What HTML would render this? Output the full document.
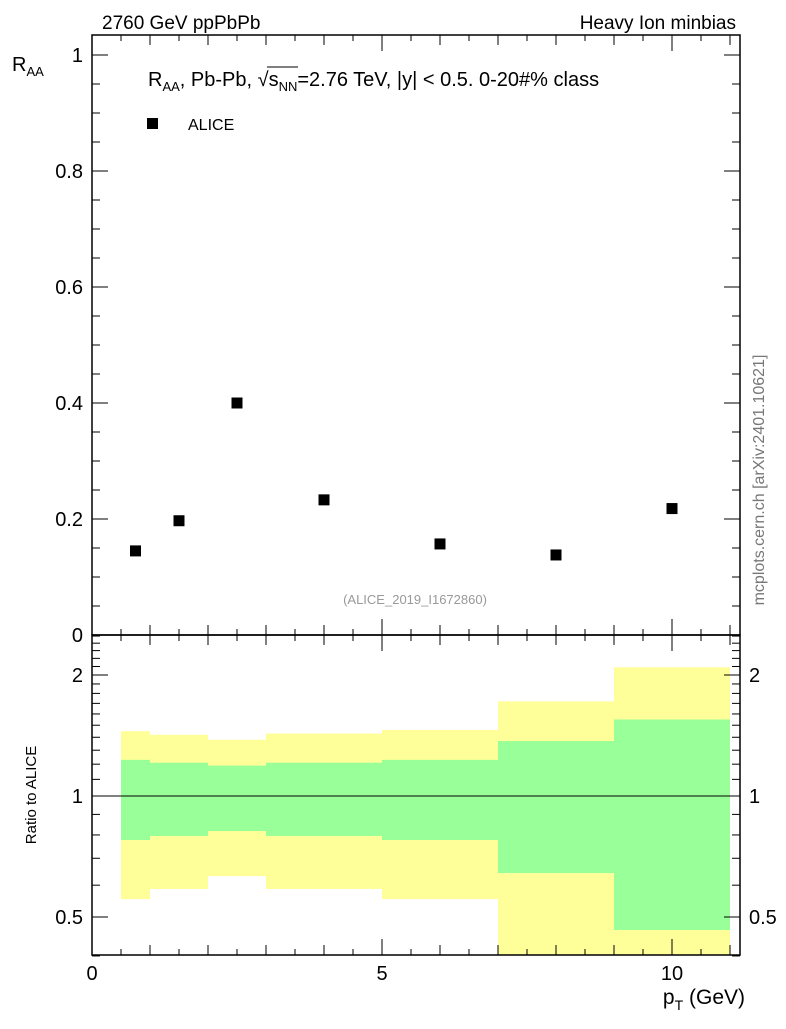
<!DOCTYPE html>
<html><head><meta charset="utf-8"><style>
body{margin:0;background:#fff;}
svg text{font-family:"Liberation Sans",sans-serif;}
</style></head><body>
<svg id="chart" width="786" height="1024" xmlns="http://www.w3.org/2000/svg">
<g id="bands"></g>
<g id="marks"></g>
<g id="axes"></g>
<text x="102" y="29" font-size="19">2760 GeV ppPbPb</text>
<text x="736" y="29" font-size="19" text-anchor="end">Heavy Ion minbias</text>
<text x="12" y="71" font-size="20">R<tspan font-size="13" dy="5">AA</tspan></text>
<text x="148" y="86" font-size="20">R<tspan font-size="13" dy="5">AA</tspan><tspan dy="-5">, Pb-Pb, √s</tspan><tspan font-size="13" dy="5">NN</tspan><tspan dy="-5">=2.76 TeV, |y| &lt; 0.5. 0-20#% class</tspan></text>
<line x1="267" y1="67" x2="298" y2="67" stroke="#000" stroke-width="1"/>
<rect x="147" y="118" width="11" height="11" fill="#000"/>
<text x="188" y="130" font-size="16">ALICE</text>
<text x="415" y="604" font-size="13" fill="#999" text-anchor="middle">(ALICE_2019_I1672860)</text>
<text transform="translate(764,480) rotate(-90)" font-size="16" fill="#777" text-anchor="middle">mcplots.cern.ch [arXiv:2401.10621]</text>
<text transform="translate(36,795) rotate(-90)" font-size="15" text-anchor="middle">Ratio to ALICE</text>
<text x="745" y="1004" font-size="21" text-anchor="end">p<tspan font-size="14" dy="6">T</tspan><tspan dy="-6"> (GeV)</tspan></text>
</svg>
<script>
const xVals=[0.75,1.5,2.5,4,6,8,10];
const yVals=[0.145,0.197,0.400,0.233,0.157,0.138,0.218];
const binLo=[0.5,1,2,3,5,7,9];
const binHi=[1,2,3,5,7,9,11];
const greenUp=[1.23,1.21,1.19,1.21,1.23,1.37,1.55];
const greenDn=[0.777,0.795,0.818,0.795,0.777,0.643,0.464];
const yellowUp=[1.45,1.42,1.38,1.43,1.46,1.72,2.09];
const yellowDn=[0.554,0.587,0.632,0.587,0.554,0.3,0.3];
const yTicks=[0,0.2,0.4,0.6,0.8,1];
const yTickLabels=["0","0.2","0.4","0.6","0.8","1"];
const xTicks=[0,5,10];
const xTickLabels=["0","5","10"];
const rTicks=[0.5,1,2];
const rTickLabels=["0.5","1","2"];
const L=92,R=740,T=35,MB=635,RB=955;
const X=v=>L+v*58;
const Y=v=>MB-v*580;
const RY=v=>796-Math.log2(v)*121;
const NS="http://www.w3.org/2000/svg";
function mk(t,a,p){const e=document.createElementNS(NS,t);for(const k in a)e.setAttribute(k,a[k]);p.appendChild(e);return e;}
const bands=document.getElementById('bands'),marks=document.getElementById('marks'),axes=document.getElementById('axes');
for(let i=0;i<binLo.length;i++){
 const ylo=Math.min(RY(yellowDn[i]),RB);
 let r=mk('rect',{x:X(binLo[i]),y:RY(yellowUp[i]),width:X(binHi[i])-X(binLo[i]),height:ylo-RY(yellowUp[i]),fill:'#ffff99'},bands);
 
 
 r=mk('rect',{x:X(binLo[i]),y:RY(greenUp[i]),width:X(binHi[i])-X(binLo[i]),height:RY(greenDn[i])-RY(greenUp[i]),fill:'#99ff99'},bands);
 
 
}
for(let i=0;i<xVals.length;i++){
 const m=mk('rect',{x:X(xVals[i])-5.5,y:Y(yVals[i])-5.5,width:11,height:11,fill:'#000'},marks);
 
 
}
mk('line',{x1:L,x2:R,y1:RY(1),y2:RY(1),stroke:'#000','stroke-width':1},axes);
mk('rect',{x:L,y:T,width:R-L,height:MB-T,fill:'none',stroke:'#000','stroke-width':1.5},axes);
mk('rect',{x:L,y:MB,width:R-L,height:RB-MB,fill:'none',stroke:'#000','stroke-width':1.5},axes);
for(let v=0;v<=1.0001;v+=0.05){const y=Y(v);const big=Math.abs(v*5-Math.round(v*5))<1e-6;const l=big?16:8;
 mk('line',{x1:L,x2:L+l,y1:y,y2:y,stroke:'#000'},axes);mk('line',{x1:R,x2:R-l,y1:y,y2:y,stroke:'#000'},axes);}
yTicks.forEach((v,i)=>{const t=mk('text',{x:L-9,y:Y(v)+7,'font-size':20,'text-anchor':'end'},axes);t.textContent=yTickLabels[i];
 
 });
for(let v=0;v<=11.01;v+=0.5){const x=X(v);const l=(v%5===0)?16:(v%1===0?10:6);
 mk('line',{x1:x,x2:x,y1:MB,y2:MB-l,stroke:'#000'},axes);mk('line',{x1:x,x2:x,y1:T,y2:T+l,stroke:'#000'},axes);
 mk('line',{x1:x,x2:x,y1:MB,y2:MB+l,stroke:'#000'},axes);mk('line',{x1:x,x2:x,y1:RB,y2:RB-l,stroke:'#000'},axes);}
xTicks.forEach((v,i)=>{const t=mk('text',{x:X(v),y:980,'font-size':20,'text-anchor':'middle'},axes);t.textContent=xTickLabels[i];
 
 });
[0.4,0.5,0.6,0.7,0.8,0.9,1,2].forEach(v=>{const y=RY(v);const l=(v===0.5||v===1||v===2)?16:8;
 mk('line',{x1:L,x2:L+l,y1:y,y2:y,stroke:'#000'},axes);mk('line',{x1:R,x2:R-l,y1:y,y2:y,stroke:'#000'},axes);});
[1.1,1.2,1.3,1.4,1.5,1.6,1.7,1.8,1.9,2.1,2.2,2.3,2.4,2.5].forEach(v=>{const y=RY(v);
 mk('line',{x1:L,x2:L+8,y1:y,y2:y,stroke:'#000'},axes);mk('line',{x1:R,x2:R-8,y1:y,y2:y,stroke:'#000'},axes);});
rTicks.forEach((v,i)=>{let t=mk('text',{x:L-9,y:RY(v)+7,'font-size':20,'text-anchor':'end'},axes);t.textContent=rTickLabels[i];
 
 
 t=mk('text',{x:R+9,y:RY(v)+7,'font-size':20},axes);t.textContent=rTickLabels[i];
 
 });
</script>
</body></html>
